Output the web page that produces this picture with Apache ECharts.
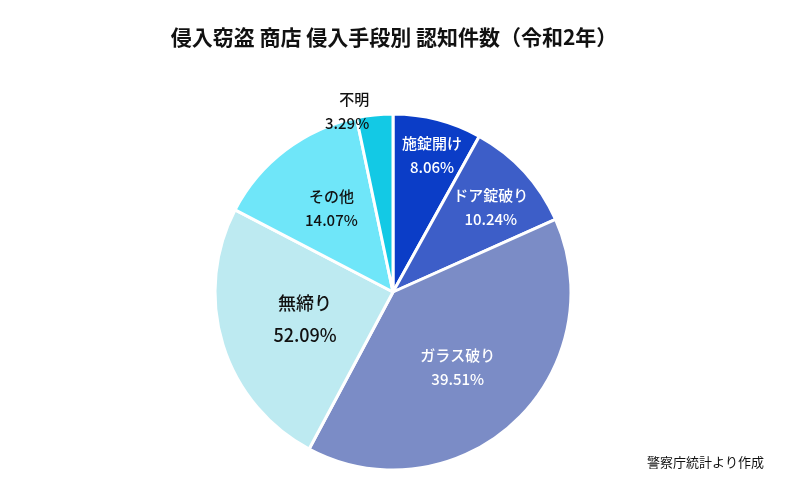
<!DOCTYPE html>
<html lang="ja">
<head>
<meta charset="UTF-8">
<title>侵入窃盗 商店 侵入手段別 認知件数</title>
<script src="https://cdn.jsdelivr.net/npm/echarts@6/dist/echarts.min.js"></script>
</head>
<body style="margin:0;background:#fff">
<div id="main" style="width:788px;height:487px;"></div>
<script>
// 区分
var names = ['施錠開け', 'ドア錠破り', 'ガラス破り', '無締り', 'その他', '不明'];
// 扇形の大きさ
var values = [8.06, 10.24, 39.51, 24.83, 14.07, 3.29];
// 図に書かれている割合ラベル
var pctLabels = ['8.06%', '10.24%', '39.51%', '52.09%', '14.07%', '3.29%'];
var colors = ['#0b3dc7', '#3d5ec8', '#7b8cc6', '#bdeaf1', '#6fe6f9', '#13c9e5'];
var textColors = ['#fff', '#fff', '#fff', '#111', '#111', '#111'];
// ラベルのずらし
var offsets = [[16, -48], [30, -22], [2, 8], [0, 0], [-6, -10], [0, 0]];

var chart = echarts.init(document.getElementById('main'));
var data = names.map(function (n, i) {
  var item = {
    name: n, value: values[i],
    itemStyle: { color: colors[i] },
    label: { color: textColors[i], offset: offsets[i], formatter: n + '\n' + pctLabels[i] }
  };
  if (i === 3) { item.label.fontSize = 18; item.label.lineHeight = 32; }
  if (i === 5) item.label.position = 'outside';
  return item;
});
chart.setOption({
  animation: false,
  title: {
    text: '侵入窃盗 商店 侵入手段別 認知件数（令和2年）',
    left: 'center', top: 22,
    textStyle: { fontSize: 21, fontWeight: 'bold', color: '#111', fontFamily: 'Noto Sans CJK JP' }
  },
  graphic: [{
    type: 'text', right: 24, top: 456,
    style: { text: '警察庁統計より作成', fontSize: 13, fill: '#111', fontFamily: 'Noto Sans CJK JP' }
  }],
  series: [{
    type: 'pie',
    center: [393, 292],
    radius: [0, 178],
    startAngle: 90,
    clockwise: true,
    avoidLabelOverlap: false,
    labelLayout: { hideOverlap: false },
    itemStyle: { borderColor: '#fff', borderWidth: 3 },
    label: {
      position: 'inside', fontSize: 15, lineHeight: 24, fontWeight: 500,
      fontFamily: 'Noto Sans CJK JP'
    },
    labelLine: { show: false, length: 4, length2: 0 },
    data: data
  }]
});
</script>
</body>
</html>
